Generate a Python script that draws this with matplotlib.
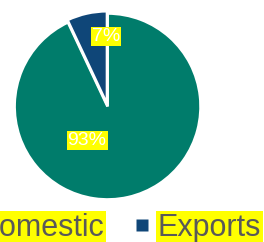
import matplotlib
matplotlib.use("Agg")
from matplotlib import pyplot as plt
from matplotlib.lines import Line2D

plt.rcParams['font.family'] = ['Liberation Sans', 'DejaVu Sans']

# data
labels = ["Domestic", "Exports"]
shares = [93, 7]
colors = ["#007C6B", "#0F4678"]
label_pos = [(-0.22, -0.37), (-0.02, 0.75)]   # where the % labels sit (pie units)

fig = plt.figure(figsize=(2.64, 2.42), dpi=100)
ax = fig.add_axes([0.055, 0.175, 0.705, 0.77])

wedges, texts, autotexts = ax.pie(
    shares, colors=colors, startangle=90, counterclock=False,
    explode=[0, 0.025], autopct="%d%%",
    wedgeprops=dict(edgecolor="white", linewidth=2),
    textprops=dict(color="white", fontsize=14),
)
for t, pos in zip(autotexts, label_pos):
    t.set_position(pos)
    t.set_bbox(dict(boxstyle="square,pad=0.05", facecolor="#FFFF00", edgecolor="none"))
ax.set_xlim(-1, 1)
ax.set_ylim(-1, 1)
ax.set_aspect("equal")

handles = [Line2D([], [], linestyle="none", marker="s", markersize=8,
                  markerfacecolor=c, markeredgecolor="none") for c in colors]
leg = fig.legend(handles, labels, ncol=2, loc="center",
                 bbox_to_anchor=(109 / 264, 0.058), frameon=False,
                 fontsize=22, borderpad=0, handlelength=0.36,
                 handletextpad=0.33, columnspacing=1.05)
for t in leg.get_texts():
    t.set_color("#595959")
    t.set_bbox(dict(boxstyle="square,pad=0.05", facecolor="#FFFF00", edgecolor="none"))

fig.savefig("out.png", dpi=100)
